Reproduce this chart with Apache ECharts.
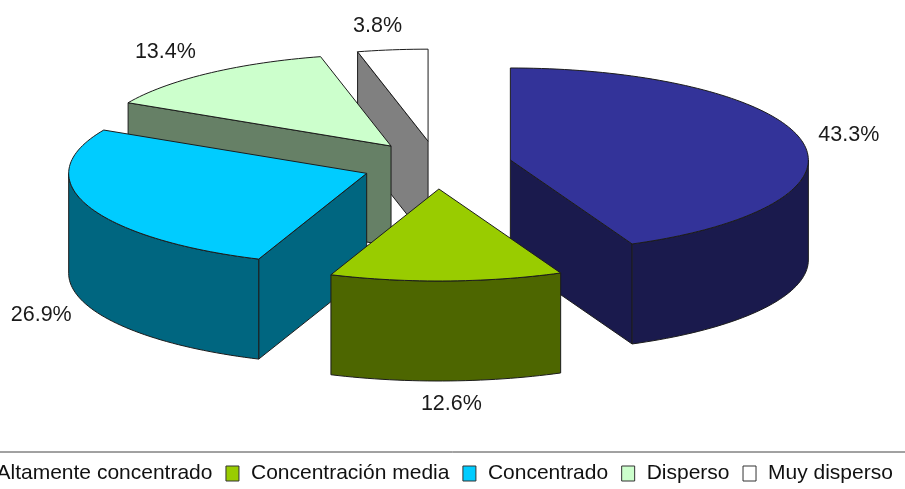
<!DOCTYPE html>
<html><head><meta charset="utf-8">
<style>html,body{margin:0;padding:0;background:#fff}#c{width:905px;height:489px}</style>
<script src="https://cdn.jsdelivr.net/npm/echarts@6/dist/echarts.min.js"></script>
</head><body><div id="c"></div>
<script>
const categories = ['Altamente concentrado','Concentración media','Concentrado','Disperso','Muy disperso'];
const values = [43.3, 12.6, 26.9, 13.4, 3.8];
const topColors = ['#333399','#99CC00','#00CCFF','#CCFFCC','#FFFFFF'];
const sideColors = ['#1A1A4D','#4D6600','#006680','#668066','#808080'];
const drawOrder = [3, 5, 4, 2, 1];
const labelOffsets = [[47,-6],[5,123],[-46,110],[-43,-21],[-15,-24]];
const FONT = '"Liberation Sans", Arial, sans-serif';
const EDGE = '#1c1c1c';
const G = {cx:437, cy:165, rx:298, ry:92, depth:100, ex:75, ey:24};

const total = values.reduce((a,b)=>a+b,0);
const rad = d => d*Math.PI/180;

function makeRender(i){
  const start = values.slice(0,i).reduce((a,b)=>a+b,0)/total*360;
  return function(params, api){
    const v = api.value(0);
    const end = start + v/total*360;
    const mid = (start+end)/2;
    const ax = G.cx + G.ex*Math.sin(rad(mid));
    const ay = G.cy - G.ey*Math.cos(rad(mid));
    const rim = (deg, dz=0) => [ax + G.rx*Math.sin(rad(deg)), ay - G.ry*Math.cos(rad(deg)) + dz];
    const arc = (a,b,dz=0) => {
      const n = Math.max(2, Math.ceil(Math.abs(b-a)/1.5)), pts=[];
      for(let k=0;k<=n;k++) pts.push(rim(a+(b-a)*k/n, dz));
      return pts;
    };
    const poly = (points, fill) => ({type:'polygon', shape:{points},
      style:{fill, stroke:EDGE, lineWidth:1, lineJoin:'round'}});
    const children = [];
    const cutWall = deg => poly([[ax,ay], rim(deg), rim(deg,G.depth), [ax,ay+G.depth]], sideColors[i]);
    if (Math.sin(rad(start)) < -1e-6) children.push(cutWall(start));
    if (Math.sin(rad(end)) > 1e-6) children.push(cutWall(end));
    const a0 = Math.max(start,90), a1 = Math.min(end,270);
    if (a1 > a0) children.push(poly(arc(a0,a1).concat(arc(a0,a1,G.depth).reverse()), sideColors[i]));
    children.push(poly([[ax,ay]].concat(arc(start,end)), topColors[i]));
    const lp = rim(mid);
    children.push({type:'text', style:{
      x: lp[0]+labelOffsets[i][0], y: lp[1]+labelOffsets[i][1],
      text: v.toFixed(1)+'%', fill:'#1a1a1a', font:'21.5px '+FONT, align:'center', verticalAlign:'middle'}});
    return {type:'group', children};
  };
}

const chart = echarts.init(document.getElementById('c'), null, {renderer:'canvas'});
chart.setOption({
  animation:false,
  backgroundColor:'#fff',
  legend:{
    left:-29, top:463, width:1100, orient:'horizontal', padding:0,
    itemWidth:13, itemHeight:15, itemGap:13,
    icon:'rect',
    textStyle:{fontFamily:FONT, fontSize:21, color:'#111', padding:[0,0,5,7]},
    data:categories.map((name,i)=>({name, itemStyle:{color:topColors[i], borderColor:'#333', borderWidth:1}}))
  },
  graphic:[{type:'line', shape:{x1:0,y1:452,x2:905,y2:452}, style:{stroke:'#444',lineWidth:1}, silent:true}],
  series:categories.map((name,i)=>({
    type:'custom', name, coordinateSystem:'none', z:drawOrder[i], clip:false,
    itemStyle:{color:topColors[i]},
    data:[{name, value:[values[i]]}],
    renderItem:makeRender(i), silent:true
  }))
});
</script></body></html>
